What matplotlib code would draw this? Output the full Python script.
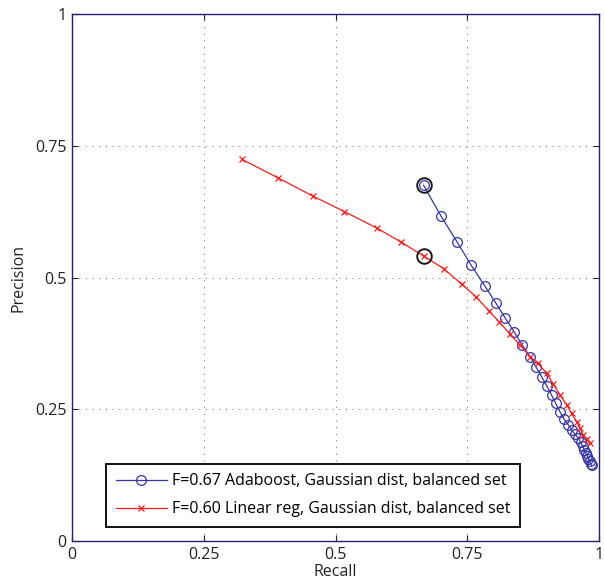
import matplotlib
matplotlib.use("Agg")
import matplotlib.pyplot as plt

plt.rcParams['font.family'] = ['Open Sans', 'DejaVu Sans']

ada_recall = [0.667, 0.700, 0.731, 0.757, 0.784, 0.804, 0.822, 0.839, 0.854, 0.869,
              0.880, 0.891, 0.901, 0.910, 0.918, 0.926, 0.934, 0.942, 0.948, 0.954,
              0.961, 0.965, 0.969, 0.972, 0.975, 0.978, 0.980, 0.982, 0.984, 0.986]
ada_prec = [0.675, 0.617, 0.567, 0.524, 0.483, 0.452, 0.423, 0.397, 0.372, 0.350,
            0.331, 0.312, 0.294, 0.277, 0.261, 0.245, 0.231, 0.220, 0.211, 0.203,
            0.195, 0.187, 0.180, 0.173, 0.167, 0.161, 0.156, 0.151, 0.147, 0.144]

lin_recall = [0.323, 0.391, 0.458, 0.517, 0.578, 0.625, 0.667, 0.705, 0.740, 0.767,
              0.791, 0.811, 0.831, 0.851, 0.869, 0.884, 0.901, 0.913, 0.926, 0.939,
              0.948, 0.958, 0.964, 0.970, 0.977, 0.982]
lin_prec = [0.724, 0.689, 0.654, 0.625, 0.594, 0.567, 0.541, 0.517, 0.487, 0.463,
            0.437, 0.415, 0.393, 0.371, 0.350, 0.337, 0.318, 0.298, 0.277, 0.258,
            0.242, 0.226, 0.214, 0.201, 0.193, 0.186]

best_ada = (0.667, 0.675)
best_lin = (0.667, 0.541)

labels = ['F=0.67 Adaboost, Gaussian dist, balanced set',
          'F=0.60 Linear reg, Gaussian dist, balanced set']
ticks = [0, 0.25, 0.5, 0.75, 1]
tick_labels = ['0', '0.25', '0.5', '0.75', '1']

fig = plt.figure(figsize=(6.04, 5.84), dpi=100)
ax = fig.add_axes([72/604, 43/584, 527/604, 527/584])

blue = '#3535a8'
red = '#ff1a1a'
ax.plot(ada_recall, ada_prec, '-', color=blue, lw=0.9, marker='o', ms=7,
        mfc='none', mec=blue, mew=0.9, label=labels[0], zorder=3)
ax.plot(lin_recall, lin_prec, '-', color=red, lw=0.9, marker='x', ms=5,
        mec=red, mew=0.9, label=labels[1], zorder=3)
ax.plot([best_ada[0]], [best_ada[1]], 'o', ms=10.5, mfc='none', mec='#1a1a1a', mew=1.4, zorder=4)
ax.plot([best_lin[0]], [best_lin[1]], 'o', ms=10.5, mfc='none', mec='#1a1a1a', mew=1.4, zorder=4)

ax.set_xlim(0, 1)
ax.set_ylim(0, 1)
ax.set_xticks(ticks)
ax.set_xticklabels(tick_labels)
ax.set_yticks(ticks)
ax.set_yticklabels(tick_labels)
ax.grid(True, linestyle=(0, (1, 5)), color='#808080', lw=0.8)
ax.tick_params(direction='in', top=True, right=True, length=4, width=0.8,
               labelsize=11.5, colors='#222222', pad=4)
for s in ax.spines.values():
    s.set_color('#22226e')
    s.set_linewidth(1.0)

ax.set_xlabel('Recall', fontsize=11.5, color='#222222', labelpad=1)
ax.set_ylabel('Precision', fontsize=11.5, color='#222222', labelpad=6)

leg = ax.legend(loc='lower left', bbox_to_anchor=(0.05, 0.012), fontsize=11.5,
                frameon=True, fancybox=False, edgecolor='#111111', framealpha=1,
                handlelength=3.2, handletextpad=0.3, borderpad=0.6, labelspacing=0.75)
leg.get_frame().set_linewidth(1.4)

fig.savefig('out.png', dpi=100)
